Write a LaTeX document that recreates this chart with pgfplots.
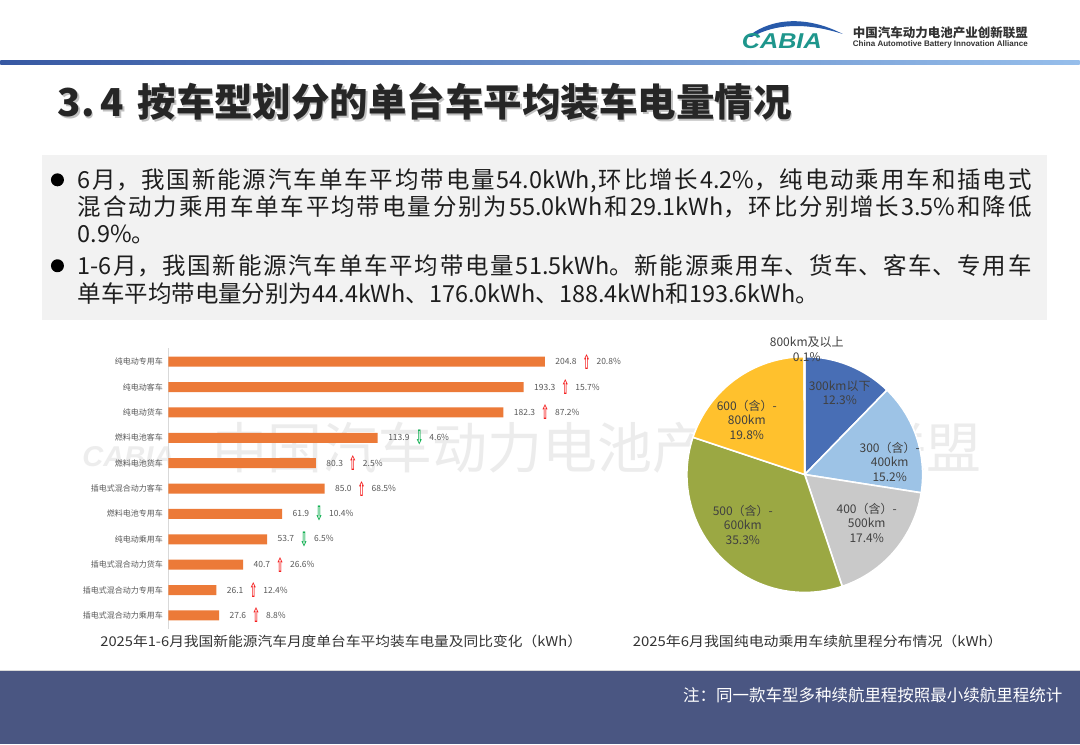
\documentclass[border=0pt]{standalone}
\usepackage{pgfplots}
\pgfplotsset{compat=1.18}
\usepackage{fontspec}
\usepackage{graphicx}
\setmainfont{Noto Sans CJK SC}
\newfontfamily\dejavu{DejaVu Sans}
\newfontfamily\libsans{Liberation Sans}
\XeTeXlinebreaklocale "zh"
\XeTeXlinebreakskip=0pt plus 3pt
\definecolor{barorange}{RGB}{236,122,56}
\definecolor{labgray}{RGB}{89,89,89}
\definecolor{upred}{RGB}{245,30,30}
\definecolor{dngreen}{RGB}{0,170,70}
\definecolor{axisgray}{RGB}{217,217,217}
\definecolor{pieblue}{RGB}{72,110,181}
\definecolor{pielight}{RGB}{157,195,230}
\definecolor{piegray}{RGB}{201,201,201}
\definecolor{piegreen}{RGB}{155,168,67}
\definecolor{pieyellow}{RGB}{255,193,45}
\definecolor{piedark}{RGB}{120,120,120}
\definecolor{pietext}{RGB}{64,64,64}
\definecolor{wmgray}{RGB}{236,236,236}
\definecolor{boxgray}{RGB}{242,242,242}
\definecolor{bodytext}{RGB}{30,30,30}
\definecolor{titletext}{RGB}{38,38,38}
\definecolor{footblue}{RGB}{74,86,130}
\definecolor{hdrtext}{RGB}{51,51,51}
\definecolor{logoteal}{RGB}{30,150,140}
\definecolor{logoblue}{RGB}{40,90,170}
\definecolor{captext}{RGB}{51,51,51}
\protected\def\lup#1#2{#1\hspace{6pt}\raisebox{-4.5pt}{\resizebox*{8pt}{15pt}{\dejavu\bfseries\textcolor{upred}{⇧}}}\hspace{6pt}#2\%}
\protected\def\ldn#1#2{#1\hspace{6pt}\raisebox{-4.5pt}{\resizebox*{8pt}{15pt}{\dejavu\bfseries\textcolor{dngreen}{⇩}}}\hspace{6pt}#2\%}
% start (cumulative %), share (%), colour; 360/100.1 deg per %
\newcommand\pieslice[3]{%
  \fill[#3, draw=white, line width=1.6pt, line join=round] (axis cs:0,0) -- ++({90-(#1)*3.5964}:118pt)
    arc[start angle={90-(#1)*3.5964}, end angle={90-(#1+#2)*3.5964}, radius=118pt] -- cycle;}
\begin{document}
\begin{tikzpicture}[x=1pt,y=1pt]
\fill[white] (0,0) rectangle (1080,745);
% header
\fill[logoblue] (748,708) .. controls (765,723) and (800,733) .. (843,711) .. controls (805,723) and (775,721) .. (752,708) -- cycle;
\node[inner sep=0, text=logoteal] at (782,704) {\resizebox{80pt}{15pt}{\libsans\bfseries\itshape CABIA}};
\node[anchor=west, inner sep=0, text=hdrtext, font=\bfseries\fontsize{12.5}{13}\selectfont] at (853,712) {中国汽车动力电池产业创新联盟};
\node[anchor=west, inner sep=0, text=hdrtext] at (853,700.5) {\resizebox{175pt}{!}{\libsans\bfseries China Automotive Battery Innovation Alliance}};
\shade[left color={rgb,255:red,55;green,88;blue,162}, right color={rgb,255:red,150;green,190;blue,235}] (0,680) rectangle (1080,684);
% title
\node[anchor=base west, inner sep=0, text=black!40, opacity=0.6, font=\bfseries\fontsize{38.5}{40}\selectfont] at (58.5,626.5) {3.\,4};
\node[anchor=base west, inner sep=0, text=black!40, opacity=0.6, font=\bfseries\fontsize{38.5}{40}\selectfont] at (138.5,626.5) {按车型划分的单台车平均装车电量情况};
\node[anchor=base west, inner sep=0, text=titletext, font=\bfseries\fontsize{38.5}{40}\selectfont] at (57,628) {3.\,4};
\node[anchor=base west, inner sep=0, text=titletext, font=\bfseries\fontsize{38.5}{40}\selectfont] at (137,628) {按车型划分的单台车平均装车电量情况};
% text box
\fill[boxgray] (42,425) rectangle (1047,590);
\fill[black] (57,565) circle (6.5);
\fill[black] (57,479) circle (6.5);
\node[anchor=base west, inner sep=0, text=bodytext] at (77,556.5) {\parbox[t]{955pt}{\fontsize{23.5}{27}\selectfont\parindent=0pt\tolerance=10000 6月，我国新能源汽车单车平均带电量54.0kWh,环比增长4.2\%，纯电动乘用车和插电式\linebreak 混合动力乘用车单车平均带电量分别为55.0kWh和29.1kWh，环比分别增长3.5\%和降低\linebreak 0.9\%。}};
\node[anchor=base west, inner sep=0, text=bodytext] at (77,470.5) {\parbox[t]{955pt}{\fontsize{23.5}{28}\selectfont\parindent=0pt\tolerance=10000 1-6月，我国新能源汽车单车平均带电量51.5kWh。新能源乘用车、货车、客车、专用车\linebreak 单车平均带电量分别为44.4kWh、176.0kWh、188.4kWh和193.6kWh。}};
% watermark
\node[anchor=west, inner sep=0, text=wmgray, font=\fontsize{55}{55}\selectfont] at (212,297) {中国汽车动力电池产业创新联盟};
\node[inner sep=0, text=black!7] at (128,288) {\resizebox{92pt}{20pt}{\libsans\bfseries\itshape CABIA}};
% bar chart
\begin{axis}[
  at={(168pt,115pt)}, anchor=south west,
  scale only axis, width=460pt, height=282pt,
  xbar, bar width=10pt,
  xmin=0, xmax=250, ymin=-0.55, ymax=10.55,
  axis x line=none, axis y line*=left,
  y axis line style={draw=axisgray, line width=0.8pt},
  xtick=\empty, ytick={0,...,10},
  yticklabels={插电式混合动力乘用车,插电式混合动力专用车,插电式混合动力货车,纯电动乘用车,燃料电池专用车,插电式混合动力客车,燃料电池货车,燃料电池客车,纯电动货车,纯电动客车,纯电动专用车},
  major tick length=0pt,
  yticklabel style={font=\fontsize{8}{9}\selectfont, text=labgray, xshift=-2pt},
  nodes near coords, point meta=explicit symbolic,
  every node near coord/.append style={anchor=west, font=\fontsize{8.5}{10}\selectfont, text=labgray, xshift=7pt},
  clip=false,
]
\addplot[fill=barorange, draw=none] coordinates {
 (27.6,0) [\lup{27.6}{8.8}]
 (26.1,1) [\lup{26.1}{12.4}]
 (40.7,2) [\lup{40.7}{26.6}]
 (53.7,3) [\ldn{53.7}{6.5}]
 (61.9,4) [\ldn{61.9}{10.4}]
 (85.0,5) [\lup{85.0}{68.5}]
 (80.3,6) [\lup{80.3}{2.5}]
 (113.9,7) [\ldn{113.9}{4.6}]
 (182.3,8) [\lup{182.3}{87.2}]
 (193.3,9) [\lup{193.3}{15.7}]
 (204.8,10) [\lup{204.8}{20.8}]
};
\end{axis}
% pie chart
\begin{axis}[
  at={(805pt,270pt)}, anchor=center,
  scale only axis, width=300pt, height=300pt,
  xmin=-1.27, xmax=1.27, ymin=-1.27, ymax=1.27,
  hide axis, clip=false,
]
\addplot[draw=none, mark=none, forget plot] coordinates {(0,0)};
\pieslice{0}{12.3}{pieblue}
\pieslice{12.3}{15.2}{pielight}
\pieslice{27.5}{17.4}{piegray}
\pieslice{44.9}{35.3}{piegreen}
\pieslice{80.2}{19.8}{pieyellow}
\pieslice{100.0}{0.1}{piedark}
\end{axis}
\begin{scope}[every node/.style={align=center, inner sep=0, text=pietext, font=\fontsize{12}{14.5}\selectfont}]
\node at (807,395.5) {800km及以上\\0.1\%};
\node at (840,352) {300km以下\\12.3\%};
\node at (890,283) {300（含）-\\400km\\15.2\%};
\node at (867,222) {400（含）-\\500km\\17.4\%};
\node at (743,220) {500（含）-\\600km\\35.3\%};
\node at (747,325) {600（含）-\\800km\\19.8\%};
\end{scope}
% captions
\node[inner sep=0, text=captext] at (341,103) {\resizebox{482pt}{\height}{\fontsize{13.5}{14}\selectfont 2025年1-6月我国新能源汽车月度单台车平均装车电量及同比变化（kWh）}};
\node[inner sep=0, text=captext] at (818,103) {\resizebox{370pt}{\height}{\fontsize{13.5}{14}\selectfont 2025年6月我国纯电动乘用车续航里程分布情况（kWh）}};
% footer
\fill[footblue] (0,0) rectangle (1080,73);
\draw[black!15, line width=1pt] (0,73.5) -- (1080,73.5);
\node[anchor=east, inner sep=0, text=white, font=\fontsize{16.5}{17}\selectfont] at (1063,49) {注：同一款车型多种续航里程按照最小续航里程统计};
\end{tikzpicture}
\end{document}
